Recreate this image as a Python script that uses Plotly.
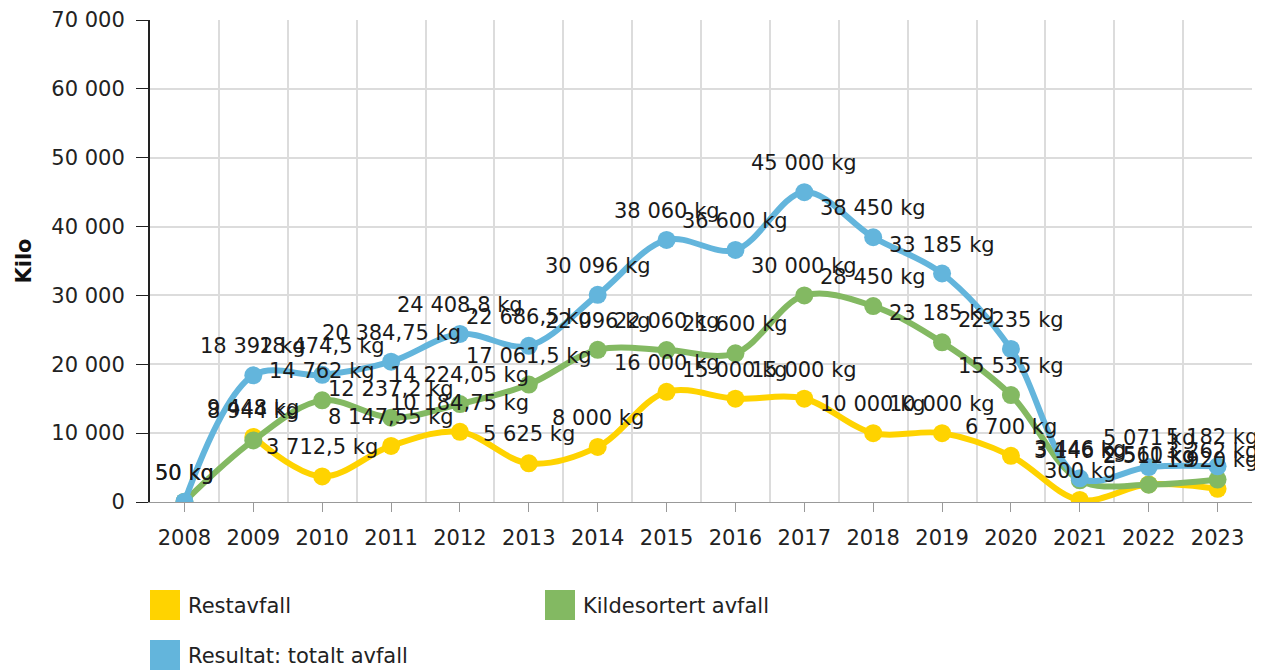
import plotly.graph_objects as go

years = list(range(2008, 2024))
restavfall = [None, 9448, 3712.5, 8147.55, 10184.75, 5625, 8000, 16000, 15000, 15000,
              10000, 10000, 6700, 300, 2560, 1920]
kildesortert = [50, 8944, 14762, 12237.2, 14224.05, 17061.5, 22096, 22060, 21600, 30000,
                28450, 23185, 15535, 3146, 2511, 3262]
totalt = [50, 18392, 18474.5, 20384.75, 24408.8, 22686.5, 30096, 38060, 36600, 45000,
          38450, 33185, 22235, 3446, 5071, 5182]

series_names = ["Restavfall", "Kildesortert avfall", "Resultat: totalt avfall"]
series_values = [restavfall, kildesortert, totalt]
colors = ["#FFD300", "#83B962", "#63B5DC"]
FONT = "DejaVu Sans, Verdana, sans-serif"
FS = 21

# page body has an 8px margin; compensate so the plot lands where the reference has it
OFF = 8
W, H = 1263, 670
PLOT_TOP, PLOT_BOTTOM, PLOT_LEFT, PLOT_RIGHT = 20 - OFF, 502 - OFF, 150 - OFF, 1252 - OFF
PH = PLOT_BOTTOM - PLOT_TOP
PW = PLOT_RIGHT - PLOT_LEFT


def fmt(v):
    if float(v).is_integer():
        s = f"{int(v):,}"
    else:
        s = f"{v:,}"
    return s.replace(",", " ").replace(".", ",") + " kg"


def py(pix):
    return (PLOT_BOTTOM - (pix - OFF)) / PH


def px(pix):
    return (pix - OFF - PLOT_LEFT) / PW


fig = go.Figure()
for name, vals, col in zip(series_names, series_values, colors):
    fig.add_trace(go.Scatter(
        x=years, y=vals, name=name, mode="lines+markers",
        line=dict(color=col, width=6, shape="spline", smoothing=1),
        marker=dict(color=col, size=18),
        connectgaps=False, showlegend=False, hoverinfo="x+y"))

for vals in series_values:
    for x, v in zip(years, vals):
        if v is None:
            continue
        fig.add_annotation(x=x, y=v, text=fmt(v), showarrow=False, yshift=29,
                           xshift=-6 if x == years[-1] else 0,
                           font=dict(family=FONT, size=FS, color="#1a1a1a"))

# legend drawn as layout items (reference pixel positions)
leg_pos = [(150, 590), (545, 590), (150, 640)]
for (lx, top), name, col in zip(leg_pos, series_names, colors):
    fig.add_shape(type="rect", xref="paper", yref="paper",
                  x0=px(lx), x1=px(lx + 30), y0=py(top + 30), y1=py(top),
                  fillcolor=col, line=dict(width=0))
    fig.add_annotation(xref="paper", yref="paper", x=px(lx + 36), y=py(top + 16),
                       text=name, showarrow=False, xanchor="left", yanchor="middle",
                       font=dict(family=FONT, size=FS, color="#222"))

fig.update_layout(
    width=W, height=H,
    margin=dict(l=PLOT_LEFT, r=W - PLOT_RIGHT, t=PLOT_TOP, b=H - PLOT_BOTTOM),
    paper_bgcolor="white", plot_bgcolor="white",
    separators=", ",
    font=dict(family=FONT, size=FS, color="#222"),
    showlegend=False,
)
fig.update_xaxes(
    range=[2007.5, 2023.5], tickmode="linear", tick0=2008, dtick=1,
    showgrid=False, ticks="outside", ticklen=9, tickcolor="#999",
    showline=True, linecolor="#999", linewidth=1, ticklabelstandoff=8,
    tickfont=dict(family=FONT, size=FS, color="#222"),
    minor=dict(tick0=2007.5, dtick=1, showgrid=True, gridcolor="#dcdcdc", gridwidth=2, ticks=""),
    zeroline=False, automargin=False,
)
fig.update_yaxes(
    range=[0, 70000], tickmode="linear", tick0=0, dtick=10000, tickformat=",",
    showgrid=True, gridcolor="#dcdcdc", gridwidth=2,
    ticks="outside", ticklen=12, tickcolor="#222", ticklabelstandoff=7,
    showline=True, linecolor="#222", linewidth=2,
    tickfont=dict(family=FONT, size=FS, color="#222"),
    title=dict(text="<b>Kilo</b>", font=dict(family=FONT, size=FS, color="#111"), standoff=14),
    zeroline=False, automargin=False,
)

fig.write_html("out.html")
